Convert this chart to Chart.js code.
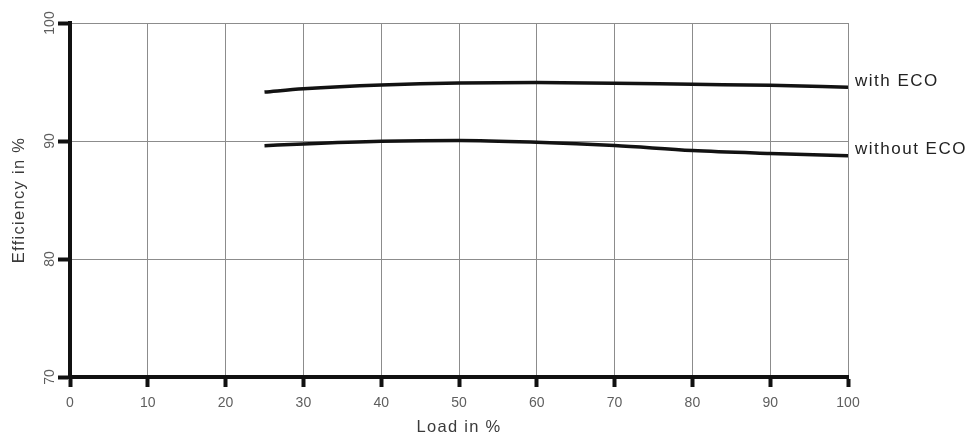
<!DOCTYPE html>
<html>
<head>
<meta charset="utf-8">
<script src="https://cdn.jsdelivr.net/npm/chart.js@4.4.1/dist/chart.umd.min.js"></script>
<style>
  html, body { margin: 0; padding: 0; background: #fff; }
  #wrap { width: 975px; height: 435px; }
</style>
</head>
<body>
<div id="wrap"><canvas id="eff_chart" width="975" height="435"></canvas></div>
<script>
// load points in %
const loadPoints = [25, 30, 40, 50, 60, 70, 80, 90, 100];
const withEco = [94.15, 94.42, 94.75, 94.92, 94.95, 94.9, 94.8, 94.72, 94.56];
const withoutEco = [89.6, 89.75, 89.97, 90.05, 89.9, 89.62, 89.2, 88.95, 88.75];
const seriesNames = ['with ECO', 'without ECO'];
const xTicks = [0, 10, 20, 30, 40, 50, 60, 70, 80, 90, 100];
const yTicks = [70, 80, 90, 100];

const FONT = '"Liberation Sans", Arial, sans-serif';

function toPoints(values) {
  return loadPoints.map((x, i) => ({x: x, y: values[i]}));
}

// the axis titles in the original are widely tracked
function spaceTitle(scale) {
  if (scale._spacedTitle) return;
  const orig = scale.drawTitle.bind(scale);
  scale.drawTitle = function() {
    const c = this.ctx;
    c.save();
    c.letterSpacing = '1.3px';
    orig();
    c.restore();
  };
  scale._spacedTitle = true;
}

// writes the series name right after the end of each curve
const endLabels = {
  id: 'endLabels',
  afterDatasetsDraw(chart) {
    const ctx = chart.ctx;
    ctx.save();
    ctx.font = '17px ' + FONT;
    ctx.letterSpacing = '1.5px';
    ctx.fillStyle = '#222';
    ctx.textBaseline = 'middle';
    chart.data.datasets.forEach((ds, i) => {
      const meta = chart.getDatasetMeta(i);
      const last = meta.data[meta.data.length - 1];
      ctx.fillText(ds.label, last.x + 7, last.y - 6);
    });
    ctx.restore();
  }
};

const ctx_eff = document.getElementById('eff_chart');
new Chart(ctx_eff, {
  type: 'line',
  data: {
    datasets: [{
        label: seriesNames[0],
        data: toPoints(withEco),
        borderColor: '#121212',
        borderWidth: 3.5,
        pointRadius: 0,
        cubicInterpolationMode: 'monotone'
    }, {
        label: seriesNames[1],
        data: toPoints(withoutEco),
        borderColor: '#121212',
        borderWidth: 3.5,
        pointRadius: 0,
        cubicInterpolationMode: 'monotone'
    }]
  },
  options: {
    responsive: false,
    animation: false,
    layout: {
      padding: {top: 23, right: 127, left: 0, bottom: 0}
    },
    plugins: {
      legend: { display: false },
      tooltip: { enabled: false }
    },
    scales: {
      x: {
        type: 'linear',
        min: 0,
        max: 100,
        afterBuildTicks: (scale) => {
          scale.ticks = xTicks.map(v => ({value: v}));
        },
        afterFit: (scale) => {
          scale.height = 58;
          spaceTitle(scale);
        },
        grid: {
          color: '#8c8c8c',
          lineWidth: 1,
          tickColor: '#111',
          tickWidth: 4,
          tickLength: 10
        },
        border: { color: '#111', width: 4 },
        ticks: {
          color: '#5e5e5e',
          font: { family: FONT, size: 14 },
          padding: 8,
          maxRotation: 0
        },
        title: {
          display: true,
          text: 'Load in %',
          color: '#3a3a3a',
          font: { family: FONT, size: 16.5 },
          padding: {top: 0, bottom: -2}
        }
      },
      y: {
        min: 70,
        max: 100,
        afterBuildTicks: (scale) => {
          scale.ticks = yTicks.map(v => ({value: v}));
        },
        afterFit: (scale) => {
          scale.width = 70;
          spaceTitle(scale);
        },
        grid: {
          color: '#8c8c8c',
          lineWidth: 1,
          tickColor: '#111',
          tickWidth: 4,
          tickLength: 12
        },
        border: { color: '#111', width: 4 },
        ticks: {
          color: '#5e5e5e',
          font: { family: FONT, size: 14 },
          padding: -4,
          crossAlign: 'center',
          minRotation: 90,
          maxRotation: 90
        },
        title: {
          display: true,
          text: 'Efficiency in %',
          color: '#3a3a3a',
          font: { family: FONT, size: 16.5 },
          padding: {top: 10, bottom: 0}
        }
      }
    }
  },
  plugins: [endLabels]
});
</script>
</body>
</html>
